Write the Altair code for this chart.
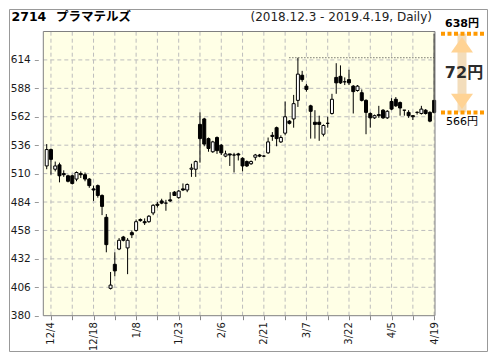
import json
import altair as alt
import pandas as pd

# ---------------- data ----------------
dates = ["12/3", "12/4", "12/5", "12/6", "12/7", "12/10", "12/11", "12/12", "12/13", "12/14",
         "12/17", "12/18", "12/19", "12/20", "12/21", "12/25", "12/26", "12/27", "12/28",
         "1/4", "1/7", "1/8", "1/9", "1/10", "1/11", "1/15", "1/16", "1/17", "1/18",
         "1/21", "1/22", "1/23", "1/24", "1/25", "1/28", "1/29", "1/30", "1/31",
         "2/1", "2/4", "2/5", "2/6", "2/7", "2/8", "2/12", "2/13", "2/14", "2/15",
         "2/18", "2/19", "2/20", "2/21", "2/22", "2/25", "2/26", "2/27", "2/28",
         "3/1", "3/4", "3/5", "3/6", "3/7", "3/8", "3/11", "3/12", "3/13", "3/14", "3/15",
         "3/18", "3/19", "3/20", "3/22", "3/25", "3/26", "3/27", "3/28", "3/29",
         "4/1", "4/2", "4/3", "4/4", "4/5", "4/8", "4/9", "4/10", "4/11", "4/12",
         "4/15", "4/16", "4/17", "4/18", "4/19"]

opens = [517, 532, 514, 518, 510, 508, 508, 505, 510, 509,
         505, 496, 499, 490, 470, 405, 427, 441, 452, 442,
         456, 458, 468, 466, 466, 474, 482, 485, 483, 486,
         493, 488, 496, 495, 514, 514, 555, 560, 542, 530,
         543, 536, 526, 528, 527, 528, 524, 521, 519, 525,
         527, 526, 529, 545, 552, 539, 547, 558, 560, 577,
         600, 590, 572, 557, 557, 546, 556, 565, 598, 599,
         594, 596, 590, 586, 584, 577, 565, 561, 564, 568,
         561, 576, 578, 575, 568, 566, 563, 566, 565, 568,
         566, 577]

highs = [537, 533, 521, 520, 513, 509, 509, 512, 512, 511,
         506, 499, 500, 491, 473, 420, 438, 451, 453, 451,
         458, 468, 469, 469, 472, 482, 484, 487, 486, 493,
         494, 495, 501, 501, 519, 522, 566, 561, 543, 540,
         544, 537, 531, 528, 529, 529, 525, 522, 522, 528,
         528, 527, 543, 548, 553, 545, 576, 559, 582, 616,
         604, 592, 573, 568, 563, 555, 562, 583, 611, 609,
         598, 605, 591, 591, 587, 578, 566, 564, 572, 569,
         568, 579, 580, 576, 568, 568, 563, 567, 572, 569,
         567, 638]

lows = [514, 509, 512, 502, 507, 502, 500, 503, 506, 503,
        497, 485, 488, 472, 438, 404, 416, 440, 448, 418,
        451, 457, 466, 463, 465, 472, 479, 482, 476, 484,
        490, 487, 494, 493, 507, 507, 520, 535, 530, 529,
        528, 527, 525, 517, 511, 522, 512, 516, 518, 522,
        525, 525, 528, 540, 535, 538, 545, 555, 552, 571,
        594, 585, 542, 542, 540, 544, 552, 564, 583, 592,
        591, 591, 565, 585, 576, 546, 552, 560, 561, 560,
        560, 568, 571, 563, 563, 561, 559, 564, 564, 564,
        557, 565]

closes = [532, 523, 517, 508, 509, 503, 501, 511, 509, 505,
          499, 495, 490, 480, 445, 408, 421, 449, 449, 449,
          454, 466, 467, 465, 471, 481, 481, 483, 483, 485,
          490, 494, 495, 500, 515, 521, 542, 537, 533, 539,
          531, 529, 528, 527, 527, 527, 517, 517, 521, 527,
          526, 526, 539, 544, 542, 543, 562, 556, 574, 601,
          596, 587, 567, 555, 555, 554, 556, 578, 593, 593,
          594, 593, 585, 590, 577, 566, 561, 563, 563, 561,
          567, 569, 572, 570, 568, 563, 562, 566, 569, 565,
          558, 566]

ticker_code = "2714"
ticker_name = "プラマテルズ"
period_text = "(2018.12.3 - 2019.4.19, Daily)"
range_top = 638
range_bottom = 566
ref_high = 616
ref_from = 57
y_ticks = [380, 406, 432, 458, 484, 510, 536, 562, 588, 614]
x_ticks = [1, 6, 11, 16, 21, 26, 31, 36, 41, 46, 51, 56, 61, 66, 71, 76, 81, 86, 91]

# ---------------- layout ----------------
W, H = 478, 342
X_DOMAIN = [-0.8, 91.2]
X_RANGE = [29.3, 431]
Y_DOMAIN = [380, 640]
Y_RANGE = [306.7, 22.5]
FONT = "DejaVu Sans, Noto Sans CJK JP"
ANN_X = 453

xs = alt.Scale(domain=X_DOMAIN, range=X_RANGE, nice=False, zero=False)
ys = alt.Scale(domain=Y_DOMAIN, range=Y_RANGE, nice=False, zero=False)

label_expr = ("datum.value % 10 == 1 ? " + json.dumps(dates, ensure_ascii=False)
              + "[datum.value] : ''")
x_axis = alt.Axis(values=x_ticks, labelExpr=label_expr, labelAngle=270, labelFont=FONT,
                  labelFontSize=10, labelColor="#1a1a1a", labelPadding=2, tickSize=4,
                  tickColor="#888888", domain=False, grid=False, offset=Y_RANGE[0] - H,
                  title=None, labelOverlap=False, labelFlush=False)
y_axis = alt.Axis(values=y_ticks, labelFont=FONT, labelFontSize=10.5, labelColor="#1a1a1a",
                  labelPadding=4, tickSize=4, tickColor="#999999", domain=False, grid=False,
                  offset=-X_RANGE[0], title=None, labelOverlap=False, labelFlush=False)

df = pd.DataFrame({"i": list(range(len(dates))), "date": dates, "open": opens,
                   "high": highs, "low": lows, "close": closes})

box = pd.DataFrame({"x": [X_DOMAIN[0]], "x2": [X_DOMAIN[1]], "y": [Y_DOMAIN[0]], "y2": [Y_DOMAIN[1]]})

bg = alt.Chart(box).mark_rect(fill="#FFFFE6").encode(
    x=alt.X("x:Q", scale=xs, axis=x_axis), x2="x2:Q",
    y=alt.Y("y:Q", scale=ys, axis=y_axis), y2="y2:Q")

ygrid = alt.Chart(pd.DataFrame({"v": y_ticks[1:], "x": X_DOMAIN[0], "x2": X_DOMAIN[1]})).mark_rule(
    color="#BDBDBD", strokeDash=[4, 3], strokeWidth=1).encode(
    x=alt.X("x:Q", scale=xs, axis=x_axis), x2="x2:Q",
    y=alt.Y("v:Q", scale=ys, axis=y_axis))

xgrid = alt.Chart(pd.DataFrame({"i": x_ticks, "y": Y_DOMAIN[0], "y2": Y_DOMAIN[1]})).mark_rule(
    color="#BDBDBD", strokeDash=[4, 3], strokeWidth=1).encode(
    x=alt.X("i:Q", scale=xs, axis=x_axis),
    y=alt.Y("y:Q", scale=ys, axis=y_axis), y2="y2:Q")

hiline = alt.Chart(pd.DataFrame({"x": [ref_from], "x2": [len(dates) - 1], "v": [ref_high]})).mark_rule(
    color="#333333", strokeDash=[1, 2], strokeWidth=1).encode(
    x=alt.X("x:Q", scale=xs, axis=x_axis), x2="x2:Q",
    y=alt.Y("v:Q", scale=ys, axis=y_axis))

wicks = alt.Chart(df).mark_rule(color="black", strokeWidth=1).encode(
    x=alt.X("i:Q", scale=xs, axis=x_axis),
    y=alt.Y("low:Q", scale=ys, axis=y_axis), y2="high:Q")

bodies = alt.Chart(df).mark_bar(width=3, stroke="black", strokeWidth=1).encode(
    x=alt.X("i:Q", scale=xs, axis=x_axis),
    y=alt.Y("open:Q", scale=ys, axis=y_axis), y2="close:Q",
    fill=alt.condition("datum.close >= datum.open", alt.value("white"), alt.value("black")))

border = alt.Chart(box).mark_rect(fillOpacity=0, stroke="#808080", strokeWidth=1).encode(
    x=alt.X("x:Q", scale=xs, axis=x_axis), x2="x2:Q",
    y=alt.Y("y:Q", scale=ys, axis=y_axis), y2="y2:Q")

# ---------------- right-hand range annotation ----------------
rng = pd.DataFrame({"v": [range_top, range_bottom]})
orange_lines = alt.Chart(rng).mark_rule(color="#FF9900", strokeWidth=4, strokeDash=[4, 2.5]).encode(
    x=alt.value(432), x2=alt.value(476), y=alt.Y("v:Q", scale=ys, axis=y_axis))

shaft = alt.Chart(pd.DataFrame({"v": [range_bottom], "v2": [range_top]})).mark_rule(
    color="#F3DDBB", strokeWidth=9).encode(
    x=alt.value(ANN_X), y=alt.Y("v:Q", scale=ys, axis=y_axis), y2="v2:Q")

head_top = alt.Chart(pd.DataFrame({"v": [range_top]})).mark_point(
    shape="M0,-0.7L1,0.7L-1,0.7Z", size=484, filled=True, color="#FFD394", opacity=1,
    yOffset=11).encode(x=alt.value(ANN_X), y=alt.Y("v:Q", scale=ys, axis=y_axis))

head_bot = alt.Chart(pd.DataFrame({"v": [range_bottom]})).mark_point(
    shape="M0,0.7L1,-0.7L-1,-0.7Z", size=484, filled=True, color="#FFD394", opacity=1,
    yOffset=-11).encode(x=alt.value(ANN_X), y=alt.Y("v:Q", scale=ys, axis=y_axis))

top_lbl = alt.Chart(pd.DataFrame({"v": [range_top], "t": [f"{range_top}円"]})).mark_text(
    font=FONT, fontSize=11, fontWeight="bold", color="black", dy=-10, align="center",
    baseline="middle").encode(x=alt.value(ANN_X), y=alt.Y("v:Q", scale=ys, axis=y_axis), text="t:N")

bot_lbl = alt.Chart(pd.DataFrame({"v": [range_bottom], "t": [f"{range_bottom}円"]})).mark_text(
    font=FONT, fontSize=11, color="black", dy=10, align="center",
    baseline="middle").encode(x=alt.value(ANN_X), y=alt.Y("v:Q", scale=ys, axis=y_axis), text="t:N")

mid_lbl = alt.Chart(pd.DataFrame({"v": [(range_top + range_bottom) / 2],
                                  "t": [f"{range_top - range_bottom}円"]})).mark_text(
    font=FONT, fontSize=16, fontWeight="bold", color="#2b2b2b", align="center",
    baseline="middle").encode(
    x=alt.value(ANN_X + 2), y=alt.Y("v:Q", scale=ys, axis=y_axis), text="t:N")

# ---------------- titles ----------------
t_code = alt.Chart(pd.DataFrame({"t": [ticker_code]})).mark_text(
    font=FONT, fontSize=12.5, fontWeight="bold", color="black", align="left", baseline="middle").encode(
    x=alt.value(2.5), y=alt.value(7.5), text="t:N")
t_name = alt.Chart(pd.DataFrame({"t": [ticker_name]})).mark_text(
    font=FONT, fontSize=12.5, fontWeight="bold", color="black", align="left", baseline="middle").encode(
    x=alt.value(47), y=alt.value(7.5), text="t:N")
t_period = alt.Chart(pd.DataFrame({"t": [period_text]})).mark_text(
    font=FONT, fontSize=12, color="#222222", align="right", baseline="middle").encode(
    x=alt.value(423), y=alt.value(8), text="t:N")

chart = alt.layer(
    bg, ygrid, xgrid, hiline, wicks, bodies, border,
    shaft, head_top, head_bot, orange_lines, top_lbl, bot_lbl, mid_lbl,
    t_code, t_name, t_period
).properties(
    width=W, height=H, padding=1, background="white",
    autosize=alt.AutoSizeParams(type="none")
).configure_view(stroke="#999999", strokeWidth=1, fill="white")

chart.save("out.html", embed_options={"renderer": "svg", "actions": False})
